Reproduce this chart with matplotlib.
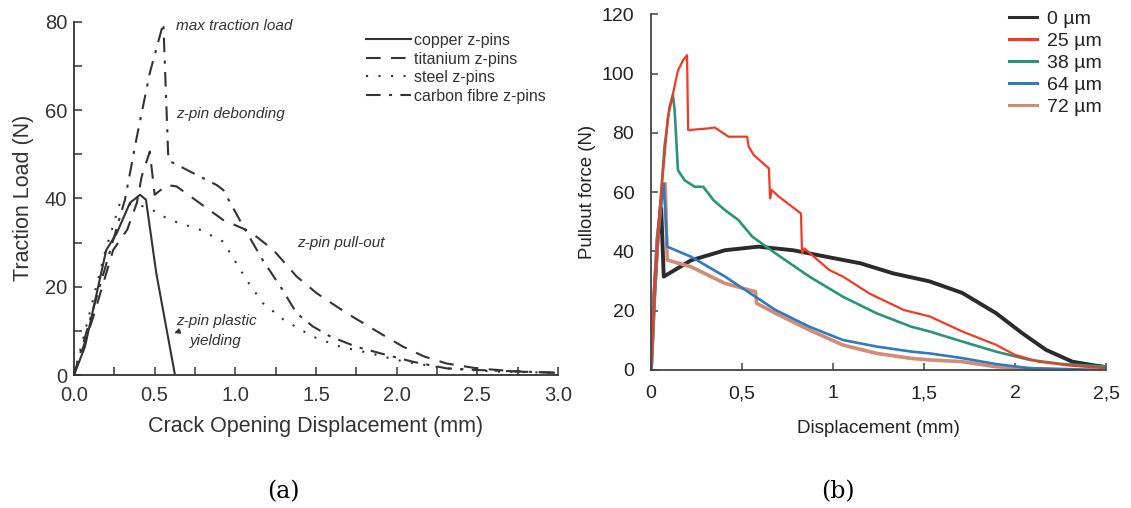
import matplotlib
matplotlib.use("Agg")
import matplotlib.pyplot as plt
from matplotlib.ticker import MultipleLocator

plt.rcParams['font.family'] = ['Liberation Sans', 'DejaVu Sans']

# ---------------- (a) bridging traction curves ----------------
copper_x = [0.0, 0.068, 0.20, 0.265, 0.347, 0.41, 0.446, 0.51, 0.626]
copper_y = [0.0, 6.4, 28.3, 32.1, 39.0, 40.8, 39.7, 23.1, 0.0]

titanium_x = [0.0, 0.12, 0.243, 0.33, 0.39, 0.42, 0.47, 0.50, 0.575, 0.636, 0.925,
              1.09, 1.236, 1.38, 1.505, 1.69, 1.90, 2.04, 2.17, 2.31, 2.5, 2.74, 3.0]
titanium_y = [0.0, 13.2, 28.3, 32.9, 39.0, 45.0, 50.6, 40.8, 43.0, 42.7, 35.1,
              32.5, 28.3, 22.3, 18.5, 14.0, 9.4, 6.4, 4.2, 2.6, 1.5, 0.8, 0.5]

steel_x = [0.0, 0.19, 0.285, 0.45, 0.595, 0.78, 0.925, 1.0, 1.07, 1.17, 1.30, 1.48,
           1.65, 1.84, 2.0, 2.12, 2.31, 2.6, 3.0]
steel_y = [0.0, 27.5, 39.0, 38.1, 35.1, 32.9, 30.2, 25.7, 21.5, 16.3, 12.5, 8.7,
           6.4, 4.9, 3.4, 2.6, 1.5, 0.8, 0.5]

carbon_x = [0.0, 0.316, 0.39, 0.47, 0.554, 0.585, 0.595, 0.885, 0.925, 1.05, 1.17,
            1.28, 1.38, 1.48, 1.59, 1.75, 1.90, 2.10, 2.31, 2.52, 3.0]
carbon_y = [0.0, 39.7, 54.0, 68.4, 79.7, 48.7, 48.4, 43.0, 41.9, 33.6, 26.0,
            20.0, 14.0, 11.0, 8.7, 6.4, 4.9, 3.0, 1.5, 1.1, 0.5]

labels_a = ["copper z-pins", "titanium z-pins", "steel z-pins", "carbon fibre z-pins"]

# ---------------- (b) pull-out curves ----------------
um0_x = [0.0, 0.018, 0.037, 0.056, 0.07, 0.13, 0.22, 0.407, 0.59, 0.78, 0.963, 1.15,
         1.33, 1.53, 1.71, 1.895, 2.04, 2.17, 2.315, 2.44, 2.48, 2.50]
um0_y = [0.0, 25.0, 45.0, 54.5, 31.5, 33.7, 37.0, 40.4, 41.6, 40.4, 38.2, 36.0,
         32.6, 29.9, 26.0, 19.2, 12.4, 6.8, 2.8, 1.5, 1.2, 0.5]

um25_x = [0.0, 0.018, 0.037, 0.056, 0.074, 0.093, 0.12, 0.148, 0.176, 0.198, 0.204,
          0.22, 0.315, 0.35, 0.426, 0.528, 0.537, 0.565, 0.648, 0.654, 0.663, 0.704,
          0.824, 0.83, 0.843, 0.98, 1.055, 1.2, 1.39, 1.53, 1.71, 1.895, 2.0, 2.13,
          2.30, 2.49]
um25_y = [0.0, 25.0, 45.0, 60.0, 72.0, 85.4, 93.0, 101.0, 104.5, 106.2, 81.0,
          81.0, 81.5, 81.8, 78.7, 78.7, 75.3, 72.5, 68.0, 57.9, 60.7, 58.4,
          52.8, 39.3, 41.0, 33.7, 31.5, 25.8, 20.2, 18.1, 13.0, 8.5, 5.1, 2.8,
          1.5, 0.6]

um38_x = [0.0, 0.018, 0.037, 0.056, 0.074, 0.102, 0.12, 0.13, 0.139, 0.148, 0.185,
          0.24, 0.287, 0.343, 0.407, 0.48, 0.556, 0.685, 0.87, 1.055, 1.24, 1.43,
          1.53, 1.71, 1.895, 2.08, 2.26, 2.49]
um38_y = [0.0, 25.0, 45.0, 60.0, 75.3, 88.8, 92.7, 87.6, 77.5, 67.4, 64.0,
          61.8, 61.8, 57.3, 53.9, 50.6, 45.0, 39.3, 31.5, 24.7, 19.1, 14.6,
          13.0, 9.6, 6.2, 3.4, 2.0, 1.2]

um64_x = [0.0, 0.018, 0.037, 0.056, 0.07, 0.078, 0.089, 0.22, 0.407, 0.574, 0.685,
          0.87, 1.055, 1.24, 1.43, 1.53, 1.71, 1.895, 2.08, 2.49]
um64_y = [0.0, 25.0, 45.0, 56.0, 62.9, 54.0, 41.6, 38.2, 31.5, 24.7, 20.2,
          14.6, 10.1, 7.9, 6.2, 5.6, 4.0, 2.0, 0.6, 0.0]

um72_x = [0.0, 0.018, 0.037, 0.056, 0.078, 0.089, 0.22, 0.407, 0.574, 0.58, 0.685,
          0.87, 1.055, 1.24, 1.43, 1.53, 1.71, 1.895, 2.08, 2.26]
um72_y = [0.0, 25.0, 45.0, 57.0, 62.9, 37.1, 34.8, 29.2, 26.4, 22.5, 19.1,
          13.5, 8.4, 5.6, 3.9, 3.4, 2.8, 1.1, 0.5, 0.0]

labels_b = ["0 µm", "25 µm", "38 µm", "64 µm", "72 µm"]
colors_b = ["#2b2b2b", "#f23a25", "#2a9479", "#2f7bbd", "#d48b74"]
widths_b = [2.8, 1.6, 1.9, 1.9, 2.6]

fig = plt.figure(figsize=(11.31, 5.08), dpi=100)

# ---- panel (a)
axa = fig.add_axes([0.0654, 0.2618, 0.4280, 0.6955])
ink = "#333333"
axa.plot(copper_x, copper_y, color=ink, lw=1.5, ls="-", label=labels_a[0])
axa.plot(titanium_x, titanium_y, color=ink, lw=1.5, ls=(0, (7, 5)), label=labels_a[1])
axa.plot(steel_x, steel_y, color=ink, lw=1.5, ls=(0, (1, 5)), label=labels_a[2])
axa.plot(carbon_x, carbon_y, color=ink, lw=1.5, ls=(0, (7, 4, 1.5, 4)), label=labels_a[3])
axa.set_xlim(0, 3.0)
axa.set_ylim(0, 80)
axa.xaxis.set_major_locator(MultipleLocator(0.5))
axa.xaxis.set_minor_locator(MultipleLocator(0.25))
axa.yaxis.set_major_locator(MultipleLocator(20))
axa.yaxis.set_minor_locator(MultipleLocator(10))
axa.xaxis.set_major_formatter(plt.FuncFormatter(lambda v, p: f"{v:.1f}"))
for s in ("top", "right"):
    axa.spines[s].set_visible(False)
for s in ("left", "bottom"):
    axa.spines[s].set_color(ink)
    axa.spines[s].set_linewidth(1.3)
axa.tick_params(which="both", direction="in", colors=ink, labelcolor=ink,
                labelsize=14.5, length=6, width=1.1)
axa.tick_params(axis="x", which="both", pad=8)
axa.tick_params(axis="y", which="both", pad=5)
axa.set_xlabel("Crack Opening Displacement (mm)", fontsize=15.5, color=ink, labelpad=8)
axa.set_ylabel("Traction Load (N)", fontsize=15.5, color=ink, labelpad=8)
leg = axa.legend(loc="upper right", bbox_to_anchor=(0.995, 0.995), frameon=False,
                 fontsize=11.5, handlelength=2.8, handletextpad=0.2, labelspacing=0.22,
                 borderaxespad=0.2)
for t in leg.get_texts():
    t.set_color(ink)

note = dict(fontsize=11, style="italic", color=ink)
axa.text(0.63, 79.0, "max traction load", va="center", ha="left", **note)
axa.text(0.63, 59.0, "z-pin debonding", va="center", ha="left", **note)
axa.text(1.38, 29.8, "z-pin pull-out", va="center", ha="left", **note)
axa.text(0.63, 12.3, "z-pin plastic", va="center", ha="left", **note)
axa.text(0.72, 7.8, "yielding", va="center", ha="left", **note)
axa.annotate("", xy=(0.605, 9.3), xytext=(0.675, 10.2),
             arrowprops=dict(arrowstyle="-|>", color=ink, lw=0.9, mutation_scale=8))

# ---- panel (b)
axb = fig.add_axes([0.5756, 0.2717, 0.4023, 0.7002])
series_b = [(um0_x, um0_y), (um25_x, um25_y), (um38_x, um38_y),
            (um64_x, um64_y), (um72_x, um72_y)]
lines = {}
for i in [0, 4, 3, 2, 1]:
    xs, ys = series_b[i]
    lines[i], = axb.plot(xs, ys, color=colors_b[i], lw=widths_b[i], label=labels_b[i],
                         solid_joinstyle="round")
axb.set_xlim(0, 2.5)
axb.set_ylim(0, 120)
axb.xaxis.set_major_locator(MultipleLocator(0.5))
axb.yaxis.set_major_locator(MultipleLocator(20))
axb.xaxis.set_major_formatter(plt.FuncFormatter(
    lambda v, p: (f"{v:g}").replace(".", ",")))
for s in ("top", "right"):
    axb.spines[s].set_visible(False)
gray = "#444444"
for s in ("left", "bottom"):
    axb.spines[s].set_color(gray)
    axb.spines[s].set_linewidth(1.3)
axb.tick_params(direction="in", length=5, width=1.1, colors=gray, labelcolor="#222222",
                labelsize=14)
axb.tick_params(axis="y", pad=12)
axb.tick_params(axis="x", pad=11)
axb.set_xlabel("Displacement (mm)", fontsize=13.6, color="#222222", labelpad=13)
axb.set_ylabel("Pullout force (N)", fontsize=13.4, color="#222222", labelpad=4)
handles = [lines[i] for i in range(5)]
legb = axb.legend(handles, labels_b, loc="upper right", bbox_to_anchor=(1.008, 1.033),
                  frameon=False, fontsize=14, handlelength=1.45, handletextpad=0.5,
                  labelspacing=0.23, borderaxespad=0.0)
for t in legb.get_texts():
    t.set_color("#222222")
for h in legb.get_lines():
    h.set_linewidth(2.2)

# ---- panel captions
fig.text(0.2502, 0.019, "(a)", fontsize=17, family="DejaVu Serif", ha="center")
fig.text(0.7409, 0.019, "(b)", fontsize=17, family="DejaVu Serif", ha="center")

fig.savefig("out.png", dpi=100, facecolor="white")
